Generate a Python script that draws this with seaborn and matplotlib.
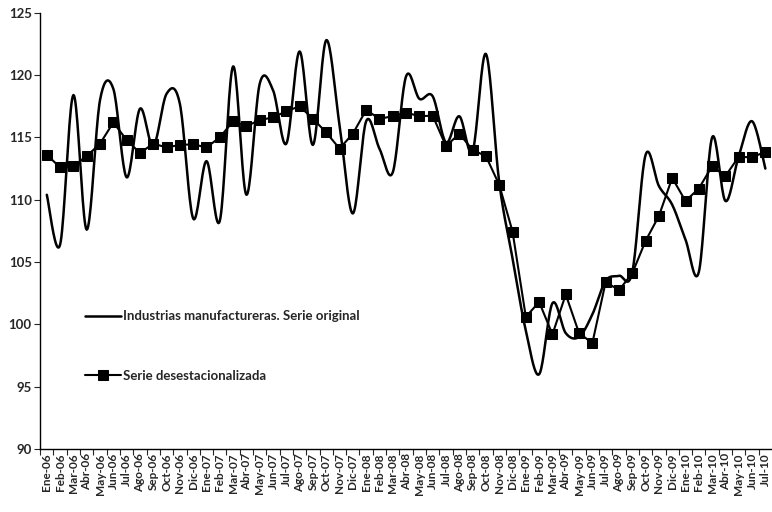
import numpy as np
import pandas as pd
import matplotlib
matplotlib.use("Agg")
import matplotlib.pyplot as plt
from matplotlib.ticker import MultipleLocator, FixedLocator
import seaborn as sns

# Months (Spanish abbreviations)
meses = ["Ene-06", "Feb-06", "Mar-06", "Abr-06", "May-06", "Jun-06", "Jul-06", "Ago-06", "Sep-06", "Oct-06", "Nov-06", "Dic-06",
         "Ene-07", "Feb-07", "Mar-07", "Abr-07", "May-07", "Jun-07", "Jul-07", "Ago-07", "Sep-07", "Oct-07", "Nov-07", "Dic-07",
         "Ene-08", "Feb-08", "Mar-08", "Abr-08", "May-08", "Jun-08", "Jul-08", "Ago-08", "Sep-08", "Oct-08", "Nov-08", "Dic-08",
         "Ene-09", "Feb-09", "Mar-09", "Abr-09", "May-09", "Jun-09", "Jul-09", "Ago-09", "Sep-09", "Oct-09", "Nov-09", "Dic-09",
         "Ene-10", "Feb-10", "Mar-10", "Abr-10", "May-10", "Jun-10", "Jul-10"]

# Industrias manufactureras, serie original
original = [110.4, 106.4, 118.4, 107.6, 118.0, 118.9, 111.8, 117.3, 114.3, 118.5, 117.7, 108.5,
            113.1, 108.3, 120.7, 110.4, 119.3, 118.8, 114.5, 121.9, 114.4, 122.8, 116.0, 108.9,
            116.3, 114.1, 112.2, 119.9, 118.1, 118.3, 114.6, 116.7, 113.9, 121.7, 111.4, 105.3,
            99.5, 96.0, 101.7, 99.3, 99.0, 100.8, 103.5, 103.9, 104.2, 113.6, 111.1, 109.6,
            106.8, 104.2, 115.0, 109.9, 113.5, 116.3, 112.5]

# Serie desestacionalizada
desest = [113.6, 112.6, 112.7, 113.5, 114.5, 116.2, 114.8, 113.75, 114.5, 114.2, 114.4, 114.45,
          114.2, 115.0, 116.3, 115.9, 116.4, 116.6, 117.1, 117.5, 116.5, 115.4, 114.1, 115.3,
          117.2, 116.5, 116.7, 117.0, 116.7, 116.75, 114.3, 115.3, 114.0, 113.5, 111.2, 107.45,
          100.6, 101.8, 99.2, 102.4, 99.3, 98.5, 103.4, 102.75, 104.1, 106.7, 108.7, 111.75,
          109.9, 110.9, 112.7, 111.9, 113.45, 113.4, 113.85]


def smooth_line(xs, ys, n=20):
    # Excel-like smoothed line (Bezier through the points)
    p = np.column_stack([xs, ys]).astype(float)
    p = np.vstack([p[0], p, p[-1]])
    out = []
    t = np.linspace(0, 1, n, endpoint=False)[:, None]
    for i in range(1, len(p) - 2):
        p0, p1 = p[i], p[i + 1]
        c1 = p0 + (p[i + 1] - p[i - 1]) / 6
        c2 = p1 - (p[i + 2] - p[i]) / 6
        seg = (1 - t) ** 3 * p0 + 3 * (1 - t) ** 2 * t * c1 + 3 * (1 - t) * t ** 2 * c2 + t ** 3 * p1
        out.append(seg)
    out.append(p[-2][None, :])
    out = np.vstack(out)
    return out[:, 0], out[:, 1]


idx = np.arange(len(meses))
sx, sy = smooth_line(idx, original)
df_orig = pd.DataFrame({"x": sx, "y": sy})
df_des = pd.DataFrame({"x": idx, "y": desest})

sns.set_style("white")
plt.rcParams["font.family"] = ["Lato", "DejaVu Sans"]

fig = plt.figure(figsize=(7.72, 5.12), dpi=100)
ax = fig.add_axes([0.052, 0.123, 0.948, 0.852])

sns.lineplot(data=df_orig, x="x", y="y", ax=ax, color="black", linewidth=1.8,
             sort=False, estimator=None, label="Industrias manufactureras. Serie original")
sns.lineplot(data=df_des, x="x", y="y", ax=ax, color="black", linewidth=1.5,
             marker="s", markersize=6.5, markeredgecolor="black",
             label="Serie desestacionalizada")

ax.set_xlim(-0.5, len(meses) - 0.5)
ax.set_ylim(90, 125)
ax.yaxis.set_major_locator(MultipleLocator(5))
ax.xaxis.set_major_locator(FixedLocator(idx))
ax.xaxis.set_minor_locator(FixedLocator(idx - 0.5))
ax.set_xticklabels(meses, rotation=90, fontsize=8.5, fontweight="bold")
for lab in ax.get_yticklabels():
    lab.set_fontweight("bold")
    lab.set_fontsize(9.5)
ax.tick_params(axis="x", which="major", length=0, pad=3)
ax.tick_params(axis="x", which="minor", length=4, width=0.8, direction="out", bottom=True)
ax.tick_params(axis="y", length=4, width=0.8, direction="out", left=True, pad=2)
ax.set_xlabel("")
ax.set_ylabel("")

sns.despine(ax=ax)
for s in ["left", "bottom"]:
    ax.spines[s].set_color("black")
    ax.spines[s].set_linewidth(1.0)

leg = ax.legend(loc="upper left", bbox_to_anchor=(0.045, 0.345), frameon=False,
                handlelength=2.7, labelspacing=3.6, handletextpad=0.2,
                prop={"weight": "bold", "size": 9.5})

fig.savefig("out.png", dpi=100)
